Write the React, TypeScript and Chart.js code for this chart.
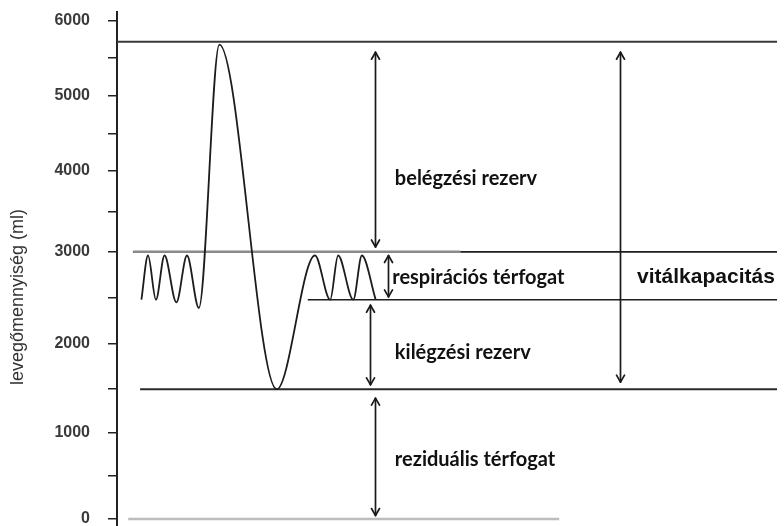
import React, { useEffect, useRef } from 'react';
import { Chart, registerables, LinearScale } from 'chart.js';

// ---- spirogram trace (time in s, volume in ml) ----
const breathTime = [3.7, 4.7, 5.9, 7.2, 9.0, 10.6, 12.4, 15.5, 24.2, 30.0, 32.3, 33.5, 35.8, 37.1, 39.2];
const breathVolume = [2480, 2960, 2480, 2960, 2450, 2960, 2390, 5680, 1490, 2960, 2480, 2960, 2480, 2960, 2480];

// ---- horizontal reference levels ----
const levelValue = [5720, 3000, 3000, 2480, 1490, 0];
const levelStart = [0, 2.4, 52, 28.9, 3.5, 1.7];
const levelEnd = [100, 52, 100, 100, 100, 67];

// ---- double arrows ----
const arrowX = [39.1, 76.2, 41.1, 38.3, 39.1];
const arrowFrom = [5580, 5580, 2960, 2420, 1390];
const arrowTo = [3060, 1570, 2510, 1540, 40];

// ---- text labels ----
const labelTexts = ['belégzési rezerv', 'respirációs térfogat', 'vitálkapacitás', 'kilégzési rezerv', 'reziduális térfogat'];
const labelX = [42.1, 41.7, 78.8, 42.1, 42.1];
const labelY = [3910, 2720, 2720, 1900, 690];

// ---- y axis ----
const yTickValues = [0, 500, 1000, 1500, 2000, 2500, 3000, 3500, 4000, 4500, 5000, 5500, 6000];
const yLabelStep = 1000;
const yTitle = 'levegőmennyiség (ml)';

// the hand-drawn axis in the reference is not evenly spaced: relative interval lengths
const AXIS_KNOTS = [-750, 0, 1000, 2000, 3000, 4000, 5000, 6000, 6100];
const AXIS_SPACING = [63, 86, 89, 92, 81, 75, 75, 8.7];
const AXIS_TOTAL = AXIS_SPACING.reduce((a, b) => a + b, 0);

function axisDecimal(value: number): number {
  let acc = 0;
  const n = AXIS_SPACING.length;
  for (let i = 0; i < n; i++) {
    const v0 = AXIS_KNOTS[i];
    const v1 = AXIS_KNOTS[i + 1];
    if (value <= v1 || i === n - 1) {
      return (acc + ((value - v0) / (v1 - v0)) * AXIS_SPACING[i]) / AXIS_TOTAL;
    }
    acc += AXIS_SPACING[i];
  }
  return 1;
}

function axisValue(decimal: number): number {
  const target = decimal * AXIS_TOTAL;
  let acc = 0;
  const n = AXIS_SPACING.length;
  for (let i = 0; i < n; i++) {
    if (target <= acc + AXIS_SPACING[i] || i === n - 1) {
      const f = (target - acc) / AXIS_SPACING[i];
      return AXIS_KNOTS[i] + f * (AXIS_KNOTS[i + 1] - AXIS_KNOTS[i]);
    }
    acc += AXIS_SPACING[i];
  }
  return AXIS_KNOTS[AXIS_KNOTS.length - 1];
}

class PiecewiseScale extends LinearScale {
  static id = 'piecewise';
  static defaults = {};
  getPixelForValue(value: any) {
    if (value === null || value === undefined || isNaN(value)) return NaN;
    return this.getPixelForDecimal(axisDecimal(value));
  }
  getValueForPixel(pixel: number) {
    return axisValue(this.getDecimalForPixel(pixel));
  }
}

Chart.register(...registerables, PiecewiseScale as any);

const levelColor = ['#3a3a3a', '#8a8a8a', '#1e1e1e', '#1e1e1e', '#2a2a2a', '#bdbdbd'];
const levelWidth = [2, 2.5, 1.6, 1.6, 2, 2.5];

const annotationPlugin = {
  id: 'spiroAnnotations',
  afterDatasetsDraw(chart: any) {
    const { ctx, scales } = chart;
    const x = scales.x;
    const y = scales.y;
    ctx.save();
    ctx.strokeStyle = '#1a1a1a';
    ctx.lineWidth = 1.7;
    ctx.lineCap = 'round';
    ctx.lineJoin = 'round';
    arrowX.forEach((ax, i) => {
      const px = Math.round(x.getPixelForValue(ax)) + 0.5;
      const a = y.getPixelForValue(arrowFrom[i]);
      const b = y.getPixelForValue(arrowTo[i]);
      const top = Math.min(a, b);
      const bottom = Math.max(a, b);
      ctx.beginPath();
      ctx.moveTo(px, top);
      ctx.lineTo(px, bottom);
      ctx.stroke();
      const head = (tip: number, dir: number) => {
        ctx.beginPath();
        ctx.moveTo(px - 4, tip + dir * 7);
        ctx.lineTo(px, tip);
        ctx.lineTo(px + 4, tip + dir * 7);
        ctx.stroke();
      };
      head(top, 1);
      head(bottom, -1);
    });
    ctx.fillStyle = '#111111';
    ctx.textAlign = 'left';
    ctx.textBaseline = 'middle';
    labelTexts.forEach((t, i) => {
      ctx.font = i === 2 ? 'bold 21px "Liberation Sans", Arial, sans-serif' : 'bold 20px Lato, "Liberation Sans", sans-serif';
      ctx.fillText(t, x.getPixelForValue(labelX[i]), y.getPixelForValue(labelY[i]));
    });
    ctx.restore();
  },
};

export default function App() {
  const canvasRef = useRef<HTMLCanvasElement | null>(null);

  useEffect(() => {
    const canvas = canvasRef.current;
    if (!canvas) return;

    const datasets: any[] = [
      {
        label: 'spirogram',
        data: breathTime.map((t, i) => ({ x: t, y: breathVolume[i] })),
        borderColor: '#1c1c1c',
        borderWidth: 1.8,
        pointRadius: 0,
        cubicInterpolationMode: 'monotone',
        fill: false,
      },
      ...levelValue.map((v, i) => ({
        label: 'level ' + i,
        data: [
          { x: levelStart[i], y: v },
          { x: levelEnd[i], y: v },
        ],
        borderColor: levelColor[i],
        borderWidth: levelWidth[i],
        pointRadius: 0,
        tension: 0,
        fill: false,
      })),
    ];

    const chart = new Chart(canvas, {
      type: 'line',
      data: { datasets },
      plugins: [annotationPlugin],
      options: {
        animation: false,
        responsive: false,
        maintainAspectRatio: false,
        layout: { padding: { top: 12, right: 7, bottom: 18, left: 0 } },
        plugins: {
          legend: { display: false },
          tooltip: { enabled: false },
        },
        scales: {
          x: {
            type: 'linear',
            min: 0,
            max: 100,
            display: false,
          },
          y: {
            type: 'piecewise' as any,
            min: -750,
            max: 6100,
            bounds: 'data',
            afterBuildTicks: (scale: any) => {
              scale.ticks = yTickValues.map((v) => ({ value: v }));
            },
            afterFit: (scale: any) => {
              scale.width = 117;
              scale.paddingTop = 0;
              scale.paddingBottom = 0;
            },
            ticks: {
              autoSkip: false,
              padding: 18,
              color: '#3a3a3a',
              font: { family: '"Liberation Sans", Arial, sans-serif', size: 16, weight: 'bold' },
              callback: (v: any) => (Number(v) % yLabelStep === 0 ? String(v) : ''),
            },
            grid: {
              drawOnChartArea: false,
              drawTicks: true,
              tickLength: 9,
              color: '#222222',
              lineWidth: 1.5,
            },
            border: { display: true, color: '#222222', width: 2 },
            title: {
              display: true,
              text: yTitle,
              color: '#333333',
              font: { family: '"Liberation Sans", Arial, sans-serif', size: 18 },
              padding: { top: 7, bottom: 0 },
            },
          },
        },
      } as any,
    });

    return () => chart.destroy();
  }, []);

  return (
    <div
      style={{
        position: 'fixed',
        left: 0,
        top: 0,
        width: 784,
        height: 526,
        overflow: 'hidden',
        background: '#ffffff',
      }}
    >
      <canvas ref={canvasRef} width={784} height={600} style={{ display: 'block' }} />
    </div>
  );
}
